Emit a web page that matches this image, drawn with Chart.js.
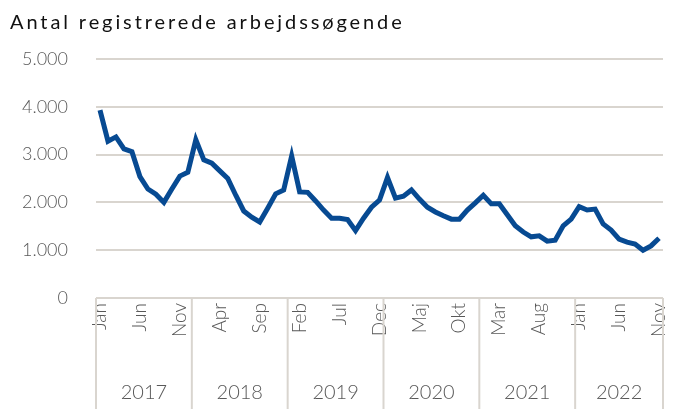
<!DOCTYPE html>
<html>
<head>
<meta charset="utf-8">
<script src="https://cdn.jsdelivr.net/npm/chart.js@4"></script>
<style>
  html, body { margin: 0; padding: 0; background: #fff; }
  #wrap { width: 680px; height: 409px; position: relative; }
</style>
</head>
<body>
<div id="wrap"><canvas id="chart" width="680" height="409"></canvas></div>
<script>
const monthNames = ["Jan", "Feb", "Mar", "Apr", "Maj", "Jun", "Jul", "Aug", "Sep", "Okt", "Nov", "Dec"];
const years = ["2017", "2018", "2019", "2020", "2021", "2022"];
const yTicks = [0, 1000, 2000, 3000, 4000, 5000];

// Jan 2017 .. Nov 2022
const values = [
  3930, 3280, 3370, 3120, 3060, 2540, 2280, 2170, 2000, 2280, 2550, 2630,
  3310, 2890, 2820, 2660, 2500, 2150, 1820, 1690, 1590, 1880, 2180, 2260,
  2970, 2220, 2210, 2030, 1840, 1670, 1670, 1640, 1410, 1670, 1900, 2050,
  2520, 2090, 2130, 2260, 2070, 1900, 1800, 1720, 1650, 1650, 1840, 1990,
  2150, 1970, 1970, 1740, 1510, 1380, 1280, 1300, 1190, 1210, 1510, 1650,
  1910, 1840, 1860, 1550, 1420, 1230, 1170, 1130, 1000, 1090, 1250,
];

const labels = values.map((_, i) => monthNames[i % 12]);
const textColor = "#595959";
const gridColor = "#d9d5cf";
const fontFamily = "Lato, 'Open Sans', sans-serif";

const fmt = (v) => String(v).replace(/\B(?=(\d{3})+(?!\d))/g, ".");

// title + year row with separators under the month labels
const extras = {
  id: "extras",
  afterDraw(chart) {
    const ctx = chart.ctx;
    const x = chart.scales.x;
    const area = chart.chartArea;
    const half = (x.getPixelForValue(1) - x.getPixelForValue(0)) / 2;

    ctx.save();
    ctx.fillStyle = "#111";
    ctx.font = `20px ${fontFamily}`;
    ctx.letterSpacing = "2.9px";
    ctx.textAlign = "left";
    ctx.textBaseline = "alphabetic";
    ctx.fillText("Antal registrerede arbejdssøgende", 10, 29);
    ctx.restore();

    ctx.save();
    ctx.strokeStyle = gridColor;
    ctx.lineWidth = 2;
    const bounds = years.map((_, k) => x.getPixelForValue(k * 12) - half);
    bounds.push(x.getPixelForValue(values.length - 1) + half);
    bounds.forEach((bx) => {
      ctx.beginPath();
      ctx.moveTo(bx, area.bottom);
      ctx.lineTo(bx, chart.height);
      ctx.stroke();
    });
    ctx.fillStyle = textColor;
    ctx.font = `300 20px ${fontFamily}`;
    ctx.textAlign = "center";
    ctx.textBaseline = "middle";
    years.forEach((y, k) => {
      ctx.fillText(y, (bounds[k] + bounds[k + 1]) / 2, 393);
    });
    ctx.restore();
  },
};

new Chart(document.getElementById("chart"), {
  type: "line",
  data: {
    labels: labels,
    datasets: [
      {
        data: values,
        borderColor: "#074a92",
        borderWidth: 5,
        pointRadius: 0,
        tension: 0,
        fill: false,
      },
    ],
  },
  options: {
    responsive: false,
    animation: false,
    layout: { padding: { top: 59, right: 17, left: 0, bottom: 0 } },
    plugins: { legend: { display: false }, tooltip: { enabled: false } },
    scales: {
      x: {
        type: "category",
        offset: true,
        grid: { display: false, drawTicks: false },
        border: { display: false },
        ticks: {
          autoSkip: false,
          minRotation: 90,
          maxRotation: 90,
          padding: 5,
          color: textColor,
          font: { family: fontFamily, size: 19, weight: "300" },
          callback: (v, i) => (i % 5 === 0 ? labels[i] : ""),
        },
        afterFit: (s) => {
          s.height = 111;
          s.paddingLeft = 0;
          s.paddingRight = 0;
        },
      },
      y: {
        min: 0,
        max: 5000,
        afterBuildTicks: (s) => { s.ticks = yTicks.map((v) => ({ value: v })); },
        grid: { color: gridColor, lineWidth: 2, drawTicks: false },
        border: { display: false },
        ticks: {
          padding: 28,
          color: textColor,
          font: { family: fontFamily, size: 18, weight: "300" },
          callback: (v) => fmt(v),
        },
        afterFit: (s) => { s.width = 96; },
      },
    },
  },
  plugins: [extras],
});
</script>
</body>
</html>
